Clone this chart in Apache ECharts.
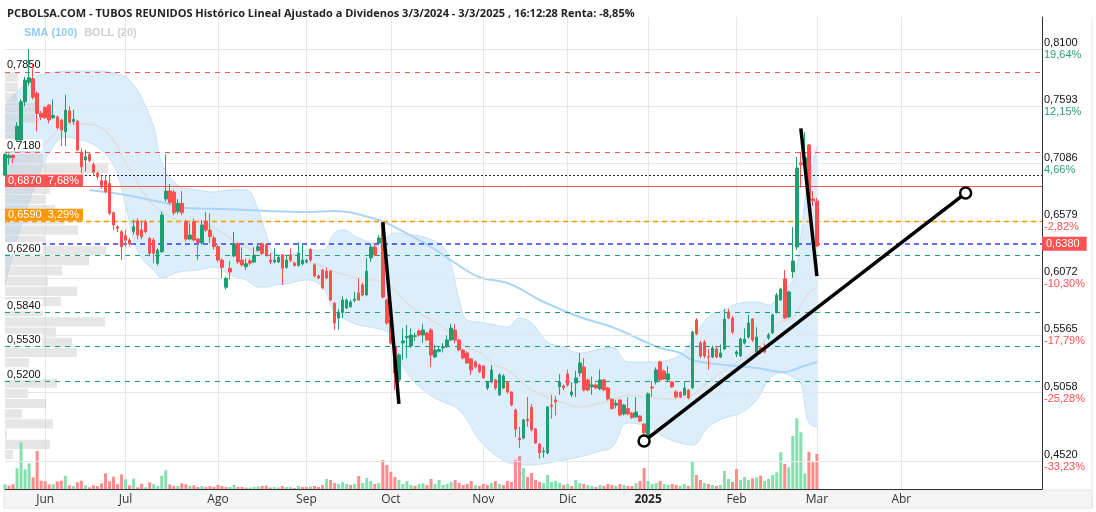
<!DOCTYPE html>
<html>
<head>
<meta charset="utf-8">
<script src="https://cdn.jsdelivr.net/npm/echarts@6/dist/echarts.min.js"></script>
<style>
html, body { margin: 0; padding: 0; background: #fff; }
#main { width: 1096px; height: 512px; }
</style>
</head>
<body>
<div id="main"></div>
<script>
var myChart = echarts.init(document.getElementById('main'));

// sesiones de bolsa desde el 20/05/2024 (sin fines de semana ni festivos)
var holidays = ['2024-12-25', '2024-12-26', '2025-01-01', '2025-04-18', '2025-04-21', '2025-05-01'];
var dates = [];
var d = new Date(Date.UTC(2024, 4, 20));
while (dates.length < 259) {
    var s = d.toISOString().slice(0, 10);
    if (d.getUTCDay() !== 0 && d.getUTCDay() !== 6 && holidays.indexOf(s) < 0) dates.push(s);
    d.setUTCDate(d.getUTCDate() + 1);
}

var monthTicks = ['2024-06-03', '2024-07-01', '2024-08-01', '2024-09-02', '2024-10-01', '2024-11-01',
    '2024-12-02', '2025-01-02', '2025-02-03', '2025-03-03', '2025-04-01'];
var monthNames = ['Jun', 'Jul', 'Ago', 'Sep', 'Oct', 'Nov', 'Dic', '2025', 'Feb', 'Mar', 'Abr'];

// [apertura, cierre, mínimo, máximo]
var ohlc = [
    [0.700, 0.718, 0.699, 0.719], [0.715, 0.717, 0.709, 0.7185], [0.717, 0.715, 0.710, 0.718], [0.7305, 0.7425, 0.729, 0.746],
    [0.7305, 0.764, 0.729, 0.766], [0.764, 0.783, 0.760, 0.786], [0.781, 0.785, 0.778, 0.810], [0.784, 0.768, 0.766, 0.798],
    [0.7713, 0.7538, 0.738, 0.773], [0.754, 0.7505, 0.748, 0.756], [0.759, 0.750, 0.749, 0.760], [0.761, 0.748, 0.745, 0.762],
    [0.750, 0.752, 0.749, 0.766], [0.7508, 0.7412, 0.740, 0.752], [0.748, 0.7393, 0.7253, 0.749], [0.7378, 0.7567, 0.7253, 0.770],
    [0.756, 0.746, 0.745, 0.760], [0.7466, 0.7486, 0.744, 0.757], [0.747, 0.7218, 0.721, 0.748], [0.720, 0.7072, 0.7014, 0.723],
    [0.7131, 0.716, 0.703, 0.722], [0.718, 0.7125, 0.711, 0.719], [0.709, 0.7025, 0.699, 0.711], [0.7014, 0.6985, 0.696, 0.703],
    [0.695, 0.6897, 0.688, 0.699], [0.695, 0.6855, 0.684, 0.700], [0.6926, 0.6665, 0.665, 0.699], [0.667, 0.6563, 0.652, 0.668],
    [0.6548, 0.6534, 0.650, 0.656], [0.6505, 0.6373, 0.6257, 0.652], [0.647, 0.643, 0.637, 0.652], [0.6432, 0.6397, 0.638, 0.645],
    [0.6505, 0.6548, 0.648, 0.661], [0.660, 0.6475, 0.644, 0.662], [0.652, 0.646, 0.644, 0.660], [0.6592, 0.6505, 0.649, 0.661],
    [0.6446, 0.6316, 0.629, 0.646], [0.6432, 0.6316, 0.623, 0.645], [0.6228, 0.6345, 0.621, 0.636], [0.633, 0.665, 0.632, 0.668],
    [0.679, 0.686, 0.677, 0.718], [0.686, 0.676, 0.674, 0.692], [0.685, 0.667, 0.665, 0.687], [0.668, 0.6752, 0.666, 0.679],
    [0.6752, 0.667, 0.665, 0.686], [0.6592, 0.644, 0.642, 0.661], [0.644, 0.6475, 0.643, 0.658], [0.6592, 0.6432, 0.642, 0.662],
    [0.644, 0.641, 0.626, 0.645], [0.6406, 0.6563, 0.639, 0.6607], [0.6598, 0.6519, 0.650, 0.6677], [0.6519, 0.6461, 0.6403, 0.6665],
    [0.645, 0.6374, 0.6345, 0.647], [0.6374, 0.6257, 0.624, 0.639], [0.6257, 0.6193, 0.610, 0.627], [0.6019, 0.6097, 0.600, 0.611],
    [0.6185, 0.6153, 0.609, 0.625], [0.6293, 0.640, 0.628, 0.6502], [0.640, 0.624, 0.622, 0.641], [0.6257, 0.6214, 0.620, 0.637],
    [0.6199, 0.6225, 0.617, 0.627], [0.625, 0.623, 0.621, 0.627], [0.624, 0.630, 0.623, 0.637], [0.6342, 0.6374, 0.633, 0.639],
    [0.640, 0.6316, 0.630, 0.641], [0.6392, 0.6302, 0.629, 0.640], [0.6257, 0.624, 0.622, 0.632], [0.624, 0.6255, 0.623, 0.636],
    [0.624, 0.628, 0.623, 0.630], [0.6302, 0.6185, 0.6039, 0.631], [0.6193, 0.6257, 0.618, 0.630], [0.6302, 0.6257, 0.624, 0.636],
    [0.623, 0.621, 0.620, 0.624], [0.621, 0.6316, 0.620, 0.6414], [0.6225, 0.6257, 0.621, 0.639], [0.624, 0.6252, 0.623, 0.627],
    [0.635, 0.6257, 0.624, 0.636], [0.6214, 0.6118, 0.611, 0.623], [0.6118, 0.610, 0.609, 0.613], [0.617, 0.6013, 0.600, 0.618],
    [0.616, 0.610, 0.609, 0.619], [0.616, 0.5908, 0.590, 0.617], [0.588, 0.5707, 0.5646, 0.589], [0.575, 0.580, 0.565, 0.583],
    [0.580, 0.5908, 0.575, 0.594], [0.5838, 0.5908, 0.583, 0.592], [0.585, 0.589, 0.584, 0.591], [0.5905, 0.5915, 0.589, 0.598],
    [0.597, 0.5908, 0.590, 0.610], [0.604, 0.5952, 0.594, 0.606], [0.5952, 0.616, 0.594, 0.6275], [0.6275, 0.637, 0.624, 0.640],
    [0.637, 0.6302, 0.629, 0.640], [0.6405, 0.645, 0.640, 0.6475], [0.658, 0.5934, 0.592, 0.659], [0.5908, 0.5707, 0.569, 0.592],
    [0.5733, 0.5532, 0.552, 0.575], [0.5498, 0.5271, 0.5122, 0.551], [0.521, 0.5428, 0.520, 0.5445], [0.5533, 0.555, 0.5385, 0.566],
    [0.558, 0.559, 0.540, 0.569], [0.5507, 0.5602, 0.549, 0.566], [0.559, 0.5595, 0.555, 0.562], [0.5638, 0.5602, 0.559, 0.565],
    [0.5602, 0.5646, 0.5535, 0.570], [0.562, 0.5559, 0.555, 0.563], [0.5646, 0.5427, 0.5323, 0.566], [0.541, 0.5471, 0.540, 0.5515],
    [0.546, 0.5475, 0.545, 0.550], [0.549, 0.550, 0.545, 0.553], [0.550, 0.5559, 0.549, 0.560], [0.5559, 0.5663, 0.555, 0.570],
    [0.5646, 0.5559, 0.553, 0.570], [0.5559, 0.5471, 0.546, 0.557], [0.5471, 0.5401, 0.539, 0.548], [0.5445, 0.5358, 0.535, 0.546],
    [0.5393, 0.5297, 0.5253, 0.540], [0.5367, 0.5323, 0.531, 0.538], [0.534, 0.528, 0.527, 0.535], [0.5332, 0.5227, 0.522, 0.534],
    [0.514, 0.5192, 0.512, 0.520], [0.5192, 0.5297, 0.518, 0.534], [0.521, 0.514, 0.512, 0.522], [0.5079, 0.5253, 0.507, 0.527],
    [0.514, 0.5245, 0.513, 0.526], [0.5192, 0.5105, 0.509, 0.520], [0.5105, 0.499, 0.498, 0.511], [0.4947, 0.478, 0.4711, 0.496],
    [0.470, 0.4688, 0.4616, 0.480], [0.4703, 0.486, 0.469, 0.487], [0.4865, 0.4855, 0.480, 0.5061], [0.497, 0.4773, 0.476, 0.500],
    [0.4782, 0.4659, 0.465, 0.479], [0.465, 0.4572, 0.452, 0.466], [0.458, 0.459, 0.453, 0.462], [0.4572, 0.4974, 0.456, 0.498],
    [0.499, 0.498, 0.487, 0.508], [0.5035, 0.5017, 0.490, 0.507], [0.515, 0.5192, 0.508, 0.526], [0.5157, 0.514, 0.512, 0.517],
    [0.5262, 0.5166, 0.515, 0.530], [0.5079, 0.5105, 0.506, 0.519], [0.5184, 0.5227, 0.506, 0.529], [0.5271, 0.5358, 0.524, 0.5445],
    [0.5323, 0.5122, 0.511, 0.540], [0.521, 0.5122, 0.511, 0.522], [0.515, 0.5166, 0.508, 0.524], [0.5166, 0.514, 0.513, 0.518],
    [0.5131, 0.521, 0.512, 0.530], [0.521, 0.5122, 0.511, 0.522], [0.514, 0.5044, 0.503, 0.515], [0.504, 0.496, 0.495, 0.505],
    [0.499, 0.5005, 0.496, 0.5035], [0.5035, 0.4903, 0.489, 0.504], [0.4912, 0.499, 0.490, 0.500], [0.496, 0.4912, 0.490, 0.506],
    [0.492, 0.488, 0.487, 0.493], [0.4886, 0.493, 0.488, 0.506], [0.4895, 0.485, 0.484, 0.490], [0.4825, 0.4747, 0.4668, 0.483],
    [0.4712, 0.5088, 0.470, 0.510], [0.5148, 0.514, 0.506, 0.520], [0.5192, 0.5297, 0.517, 0.532], [0.5366, 0.5209, 0.520, 0.538],
    [0.5288, 0.5218, 0.521, 0.530], [0.521, 0.5262, 0.519, 0.533], [0.5192, 0.5149, 0.514, 0.520], [0.5105, 0.5061, 0.505, 0.512],
    [0.510, 0.5061, 0.505, 0.511], [0.5079, 0.514, 0.507, 0.520], [0.5122, 0.5052, 0.504, 0.513], [0.514, 0.5628, 0.513, 0.564],
    [0.5733, 0.5611, 0.560, 0.575], [0.5532, 0.5419, 0.540, 0.555], [0.554, 0.5419, 0.540, 0.556], [0.5415, 0.541, 0.5297, 0.548],
    [0.541, 0.5489, 0.540, 0.551], [0.548, 0.541, 0.540, 0.550], [0.541, 0.5445, 0.540, 0.552], [0.548, 0.5742, 0.547, 0.583],
    [0.5803, 0.5751, 0.574, 0.583], [0.5751, 0.5629, 0.561, 0.577], [0.5436, 0.5454, 0.541, 0.547], [0.5419, 0.5567, 0.541, 0.558],
    [0.5532, 0.5567, 0.552, 0.566], [0.5585, 0.5707, 0.557, 0.5777], [0.5742, 0.5559, 0.554, 0.575], [0.5454, 0.5585, 0.544, 0.567],
    [0.5489, 0.5454, 0.544, 0.550], [0.5495, 0.5454, 0.544, 0.553], [0.5577, 0.5602, 0.556, 0.562], [0.562, 0.5777, 0.561, 0.579],
    [0.5803, 0.5952, 0.579, 0.597], [0.5908, 0.6004, 0.590, 0.6015], [0.6092, 0.5751, 0.574, 0.617], [0.576, 0.5978, 0.575, 0.599],
    [0.6153, 0.6249, 0.610, 0.6545], [0.6371, 0.7061, 0.6345, 0.7157], [0.7105, 0.709, 0.689, 0.720], [0.709, 0.715, 0.700, 0.7375],
    [0.7262, 0.6781, 0.677, 0.727], [0.679, 0.6775, 0.673, 0.686], [0.6773, 0.638, 0.637, 0.680]
];

var volumes = [
    4.7, 3.3, 4.7, 20.7, 47, 19.7, 25.7, 11.7, 38, 8.3, 7.7, 4.7, 4.7, 7.7, 8.3, 13.3, 3.7, 3, 6.7, 8.3,
    3.7, 1.7, 3.7, 3, 5.7, 15.7, 7.7, 12.3, 4.7, 14.7, 9.7, 3.7, 10.3, 1.7, 5.3, 1.7, 6.7, 4.7, 3, 13.3,
    18.7, 4.7, 3, 3, 5.7, 4.7, 3, 3.7, 2, 3, 2, 3, 2, 4, 3, 2, 2, 4, 2, 2,
    1.5, 1.5, 2, 2.5, 3, 3.5, 1.5, 2, 1.5, 3, 2, 2, 1, 3, 2, 2, 2.5, 3, 2, 4,
    10, 9, 6, 5, 7, 5, 4, 5, 13, 6, 11, 8, 5, 6, 29, 24, 17, 12, 9, 5,
    8, 4, 3, 5, 6, 4, 10, 5, 9, 4, 5, 7, 9, 6, 4, 5, 8, 4, 3, 5,
    4, 6, 8, 5, 4, 8, 7, 29, 33, 21, 12, 16, 9, 7, 6, 14, 7, 8, 6, 4,
    5, 3, 9, 6, 5, 4, 3, 2, 4, 3, 5, 4, 3, 5, 4, 3, 3, 6, 8, 21,
    8, 5, 6, 8, 5, 4, 5, 4, 3, 5, 3, 27, 14, 9, 6, 5, 4, 3, 4, 18,
    10, 7, 20, 9, 12, 9, 10.7, 11.7, 13.3, 8, 10, 14, 16.7, 36.7, 25, 21.7, 53, 70.7, 56.7, 15.7,
    37.3, 26.7, 35
];

// Bandas de Bollinger (20) y SMA (100) leídas por tramos: [sesión, precio]
var bollUpper = [[0, 0.7611], [4, 0.7759], [8, 0.7864], [11, 0.7890], [15, 0.7908], [19, 0.7908], [23, 0.7908], [27, 0.7890],
    [30, 0.7855], [32, 0.7786], [34, 0.7672], [37, 0.7419], [39, 0.7104], [43, 0.6912], [48, 0.6869], [52, 0.6851],
    [56, 0.6869], [60, 0.6869], [63, 0.6694], [65, 0.6476], [67, 0.6318], [70, 0.6301], [75, 0.6345], [79, 0.6345],
    [82, 0.6493], [84, 0.6519], [88, 0.6449], [92, 0.6406], [95, 0.6458], [97, 0.6493], [100, 0.6484], [105, 0.6449],
    [109, 0.6371], [111, 0.6214], [113, 0.5908], [115, 0.5733], [118, 0.5716], [122, 0.5690], [125, 0.5672], [128, 0.5751],
    [131, 0.5707], [135, 0.5541], [139, 0.5497], [143, 0.5445], [147, 0.5471], [151, 0.5497], [155, 0.5366], [160, 0.5366],
    [164, 0.5375], [168, 0.5428], [171, 0.5559], [175, 0.5759], [179, 0.5821], [183, 0.5882], [187, 0.5890], [190, 0.5864],
    [193, 0.5969], [196, 0.6083], [198, 0.6458], [199, 0.6781], [200, 0.6973], [202, 0.7244]];
var bollMid = [[0, 0.6781], [4, 0.6956], [8, 0.7200], [11, 0.7305], [15, 0.7436], [19, 0.7445], [23, 0.7428], [27, 0.7305],
    [30, 0.7104], [32, 0.7000], [34, 0.6869], [37, 0.6738], [39, 0.6676], [43, 0.6607], [48, 0.6589], [52, 0.6537],
    [56, 0.6449], [60, 0.6371], [63, 0.6318], [65, 0.6292], [67, 0.6257], [70, 0.6248], [75, 0.6231], [79, 0.6205],
    [82, 0.6152], [84, 0.6135], [88, 0.6100], [92, 0.6083], [95, 0.6048], [97, 0.5995], [100, 0.5882], [105, 0.5751],
    [109, 0.5672], [111, 0.5602], [113, 0.5541], [115, 0.5489], [118, 0.5454], [122, 0.5340], [125, 0.5297], [128, 0.5209],
    [131, 0.5122], [135, 0.5061], [139, 0.5008], [143, 0.4973], [147, 0.5000], [151, 0.5034], [155, 0.5078], [160, 0.5061],
    [164, 0.5043], [168, 0.5052], [171, 0.5078], [175, 0.5192], [179, 0.5297], [183, 0.5384], [187, 0.5471], [190, 0.5602],
    [193, 0.5716], [196, 0.5751], [198, 0.5864], [199, 0.5925], [200, 0.5969], [202, 0.6021]];
var bollLower = [[0, 0.6039], [4, 0.6563], [8, 0.6956], [11, 0.7192], [15, 0.7331], [19, 0.7305], [23, 0.7244], [27, 0.7087],
    [30, 0.6738], [32, 0.6432], [34, 0.6275], [37, 0.6170], [39, 0.6100], [43, 0.6152], [48, 0.6170], [52, 0.6196],
    [56, 0.6126], [60, 0.6083], [63, 0.6021], [65, 0.6021], [67, 0.6039], [70, 0.6048], [75, 0.6083], [79, 0.6021],
    [82, 0.5794], [84, 0.5751], [88, 0.5690], [92, 0.5663], [95, 0.5628], [97, 0.5515], [100, 0.5270], [105, 0.5096],
    [109, 0.5017], [111, 0.4991], [113, 0.4947], [115, 0.4860], [118, 0.4685], [122, 0.4554], [125, 0.4493], [128, 0.4467],
    [131, 0.4467], [135, 0.4484], [139, 0.4510], [143, 0.4537], [147, 0.4580], [151, 0.4624], [155, 0.4834], [160, 0.4799],
    [164, 0.4711], [168, 0.4659], [171, 0.4641], [175, 0.4799], [179, 0.4877], [183, 0.4921], [187, 0.5034], [190, 0.5209],
    [193, 0.5270], [196, 0.5235], [198, 0.5183], [199, 0.4991], [200, 0.4834], [202, 0.4799]];
var sma100 = [[21, 0.6869], [30, 0.6825], [40, 0.6755], [45, 0.6711], [55, 0.6703], [65, 0.6685], [75, 0.6676], [82, 0.6685],
    [93, 0.6607], [97, 0.6545], [106, 0.6371], [112, 0.6231], [118, 0.6109], [125, 0.6057], [130, 0.5969], [133, 0.5908],
    [143, 0.5759], [151, 0.5672], [160, 0.5532], [163, 0.5489], [168, 0.5445], [171, 0.5384], [179, 0.5340], [187, 0.5314],
    [194, 0.5279], [198, 0.5323], [202, 0.5366]];

// volumen por niveles de precio (de arriba abajo)
var profile = [13, 13, 12, 30, 30, 15, 15, 35, 38, 103, 60, 45, 40, 50, 60, 73, 40, 101, 84,
    57, 43, 72, 56, 38, 100, 51, 67, 72, 24, 3, 52, 23, 41, 17, 48, 2, 45, 8];

// escala de la derecha
var axisTicks = [0.8100, 0.7593, 0.7086, 0.6579, 0.6072, 0.5565, 0.5058, 0.4520];
var axisPct = ['19,64%', '12,15%', '4,66%', '-2,82%', '-10,30%', '-17,79%', '-25,28%', '-33,23%'];

// niveles horizontales dibujados
var levels = [0.7850, 0.7180, 0.7000, 0.6870, 0.6590, 0.6380, 0.6260, 0.5840, 0.5530, 0.5200];
var levelPct = ['', '', '', '7,68%', '3,29%', '', '', '', '', ''];

// líneas de tendencia: [sesión, precio]
var trendA = [[94, 0.6589], [98, 0.5000]];
var trendB = [[198, 0.7407], [202, 0.6117]];
var trendC = [[159, 0.4676], [239, 0.6842]];

function fmt(v) { return v.toFixed(4).replace('.', ','); }

var volData = volumes.map(function (v, i) {
    var up = i === 0 || ohlc[i][1] >= ohlc[i - 1][1];
    return { value: v, itemStyle: { color: up ? '#86dfae' : '#ff8c8c' } };
});
var bandData = bollUpper.map(function (p, k) { return [p[0], +(p[1] - bollLower[k][1]).toFixed(4)]; });

var gridLines = axisTicks.map(function (v, k) {
    var neg = axisPct[k].charAt(0) === '-';
    return { yAxis: v, label: { formatter: '{p|' + fmt(v) + '}\n{' + (neg ? 'dn' : 'up') + '|' + axisPct[k] + '}' } };
});

function plainLabel(k) {
    return { show: true, position: 'insideStartTop', distance: [0, 1], color: '#111', fontSize: 11,
        backgroundColor: '#fff', padding: [1, 2, 0, 2], fontFamily: 'Liberation Sans', formatter: fmt(levels[k]) };
}
function boxLabel(k, bg) {
    return { show: true, position: 'insideStartTop', distance: [0, 0], color: '#fff', fontSize: 11,
        backgroundColor: bg, padding: [1, 4, 0, 3], fontFamily: 'Liberation Sans',
        formatter: fmt(levels[k]) + '  ' + levelPct[k] };
}
var red = '#ff5252', green = '#1f9e72', orange = '#ff9800';
var levelLines = [
    { yAxis: levels[0], lineStyle: { color: red, type: [5, 5] }, label: plainLabel(0) },
    { yAxis: levels[1], lineStyle: { color: red, type: [5, 5] }, label: plainLabel(1) },
    { yAxis: levels[2], lineStyle: { color: '#222', type: [2, 2] }, label: { show: false } },
    { yAxis: levels[3], lineStyle: { color: red, type: 'solid' }, label: boxLabel(3, red) },
    { yAxis: levels[4], lineStyle: { color: orange, type: [5, 4], width: 1.3 }, label: boxLabel(4, orange) },
    { yAxis: levels[5], lineStyle: { color: '#3a3aff', type: [5, 4], width: 1.5 },
        label: { show: true, position: 'end', distance: 0, color: '#fff', backgroundColor: red, fontSize: 11,
            padding: [2, 7, 1, 4], fontFamily: 'Liberation Sans', formatter: fmt(levels[5]) } },
    { yAxis: levels[6], lineStyle: { color: green, type: [5, 5] }, label: plainLabel(6) },
    { yAxis: levels[7], lineStyle: { color: green, type: [5, 5] }, label: plainLabel(7) },
    { yAxis: levels[8], lineStyle: { color: green, type: [5, 5] }, label: plainLabel(8) },
    { yAxis: levels[9], lineStyle: { color: green, type: [5, 5] }, label: plainLabel(9) }
];

function isMonthStart(index, value) { return monthTicks.indexOf(value) >= 0; }

var trendStyle = { color: '#000', width: 3.5 };

var option = {
    animation: false,
    textStyle: { fontFamily: 'Open Sans' },
    title: {
        text: 'PCBOLSA.COM - TUBOS REUNIDOS Histórico Lineal Ajustado a Dividenos 3/3/2024 - 3/3/2025 , 16:12:28 Renta: -8,85%',
        left: 2, top: 3,
        textStyle: { fontSize: 11, fontWeight: 'bold', color: '#222', fontFamily: 'Open Sans' }
    },
    legend: {
        left: 14, top: 22, itemWidth: 0, itemHeight: 0, itemGap: 2, icon: 'rect',
        textStyle: { fontSize: 11, fontWeight: 'bold', fontFamily: 'Liberation Sans' },
        data: [
            { name: 'SMA (100)', textStyle: { color: '#8fcdf5' } },
            { name: 'BOLL (20)', textStyle: { color: '#cfcfcf' } }
        ]
    },
    graphic: [
        { type: 'rect', z: -10, shape: { x: 4, y: 490, width: 1088, height: 18 },
            style: { fill: '#f5f5f5', stroke: '#e4e4e4' } },
        { type: 'line', z: -10, shape: { x1: 1092, y1: 17, x2: 1092, y2: 508 }, style: { stroke: '#e4e4e4' } }
    ],
    grid: [
        { left: 5, right: 54, top: 17, bottom: 23 },
        { left: 5, right: 54, bottom: 23, height: 100 },
        { left: 5, right: 54, top: 72, height: 387.6 }
    ],
    xAxis: [
        {
            type: 'category', gridIndex: 0, data: dates, boundaryGap: false,
            axisLine: { lineStyle: { color: '#333' } },
            axisTick: { show: false },
            axisLabel: {
                interval: isMonthStart, color: '#333', fontSize: 12, margin: 5,
                formatter: function (v) {
                    var k = monthTicks.indexOf(v);
                    return monthNames[k] === '2025' ? '{y|2025}' : monthNames[k];
                },
                rich: { y: { fontWeight: 'bold', fontSize: 12, color: '#222' } }
            },
            splitLine: { show: true, interval: isMonthStart, lineStyle: { color: '#e8e8e8' } }
        },
        { type: 'category', gridIndex: 1, data: dates, boundaryGap: false, show: false },
        { type: 'value', gridIndex: 2, min: 0, max: 1037, show: false }
    ],
    yAxis: [
        {
            type: 'value', gridIndex: 0, position: 'right', min: 0.4257, max: 0.8380,
            splitLine: { show: false }, axisLabel: { show: false }, axisTick: { show: false },
            axisLine: { show: true, lineStyle: { color: '#333' } }
        },
        { type: 'value', gridIndex: 1, min: 0, max: 100, show: false },
        { type: 'category', gridIndex: 2, inverse: true, data: profile.map(function (v, k) { return k; }), show: false }
    ],
    series: [
        {
            name: 'rejilla', type: 'line', data: [], z: 1, silent: true,
            markLine: {
                silent: true, symbol: ['none', 'none'], animation: false,
                lineStyle: { color: '#e6e6e6', type: 'solid', width: 1 },
                label: {
                    position: 'end', distance: 2,
                    rich: {
                        p: { color: '#111', fontSize: 11, lineHeight: 12, fontFamily: 'Liberation Sans' },
                        up: { color: '#26a17b', fontSize: 11, lineHeight: 12, fontFamily: 'Liberation Sans' },
                        dn: { color: '#ff5252', fontSize: 11, lineHeight: 12, fontFamily: 'Liberation Sans' }
                    }
                },
                data: gridLines
            }
        },
        {
            name: 'BOLL (20)', type: 'line', stack: 'boll', data: bollLower, z: 2, smooth: 0.4,
            symbol: 'none', lineStyle: { color: '#c3e1f6', width: 1 }
        },
        {
            name: 'BOLL (20)', type: 'line', stack: 'boll', data: bandData, z: 2, smooth: 0.4,
            symbol: 'none', lineStyle: { color: '#c3e1f6', width: 1 },
            areaStyle: { color: '#dcedfb', opacity: 1 }
        },
        {
            name: 'BOLL (20)', type: 'line', data: bollMid, z: 3, smooth: 0.4,
            symbol: 'none', lineStyle: { color: '#dedede', width: 1.5 }
        },
        {
            name: 'SMA (100)', type: 'line', data: sma100, z: 3, smooth: 0.4,
            symbol: 'none', lineStyle: { color: '#a9d6f7', width: 2 }
        },
        {
            name: 'perfil', type: 'bar', xAxisIndex: 2, yAxisIndex: 2, data: profile, z: 3,
            barCategoryGap: '10%', itemStyle: { color: 'rgba(200,200,200,0.45)' }, silent: true
        },
        {
            name: 'volumen', type: 'bar', xAxisIndex: 1, yAxisIndex: 1, data: volData, z: 4,
            barWidth: 3
        },
        {
            name: 'niveles', type: 'line', data: [], z: 4, silent: true,
            markLine: { silent: true, symbol: ['none', 'none'], animation: false, data: levelLines }
        },
        {
            name: 'TUBOS REUNIDOS', type: 'candlestick', data: ohlc, z: 5, barWidth: 3,
            itemStyle: {
                color: '#1f9e72', color0: '#ff4f4f',
                borderColor: '#1f9e72', borderColor0: '#ff4f4f', borderWidth: 1
            }
        },
        { name: 'tA', type: 'line', data: trendA, z: 6, symbol: 'none', lineStyle: trendStyle },
        { name: 'tB', type: 'line', data: trendB, z: 6, symbol: 'none', lineStyle: trendStyle },
        {
            name: 'tC', type: 'line', data: trendC, z: 6, lineStyle: trendStyle,
            symbol: 'circle', symbolSize: 11, showAllSymbol: true,
            itemStyle: { color: '#fff', borderColor: '#000', borderWidth: 2.5 }
        }
    ]
};

myChart.setOption(option);
</script>
</body>
</html>
